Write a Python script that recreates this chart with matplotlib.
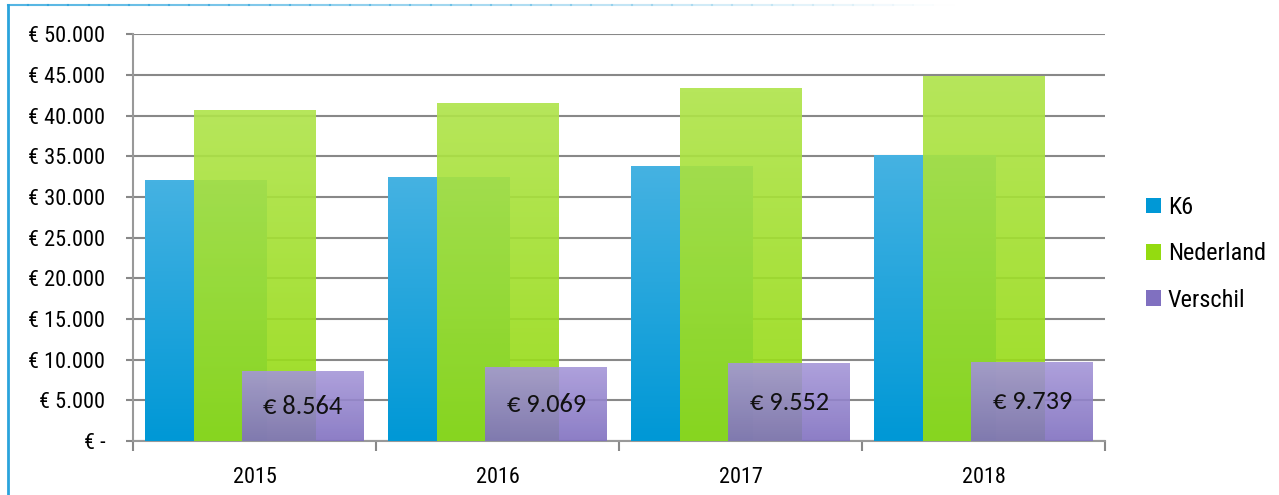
import matplotlib

matplotlib.use("Agg")
import matplotlib.pyplot as plt
import numpy as np
from matplotlib.colors import LinearSegmentedColormap
from matplotlib.lines import Line2D
from matplotlib.patches import Rectangle

years = ["2015", "2016", "2017", "2018"]
nederland = [40660, 41520, 43370, 44880]
verschil = [8564, 9069, 9552, 9739]
k6 = [n - v for n, v in zip(nederland, verschil)]
series_names = ["K6", "Nederland", "Verschil"]
yticks = [0, 5000, 10000, 15000, 20000, 25000, 30000, 35000, 40000, 45000, 50000]

# (top colour, bottom colour, alpha) per series
STYLES = [
    ("#45b2e2", "#0098d6", 1.0),
    ("#b0e44c", "#94db10", 0.92),
    ("#a596d8", "#8070c0", 0.9),
]
TICK_FONT = ["Roboto Condensed", "DejaVu Sans"]
LABEL_FONT = ["Carlito", "DejaVu Sans"]


def grad_cmap(top, bottom):
    return LinearSegmentedColormap.from_list("g", [bottom, top])


def grad_bar(ax, x, h, w, top, bottom, alpha, z):
    rect = Rectangle((x - w / 2, 0), w, h, facecolor="none", edgecolor="none", zorder=z)
    ax.add_patch(rect)
    img = ax.imshow(np.linspace(0, 1, 64).reshape(-1, 1), cmap=grad_cmap(top, bottom),
                    origin="lower", extent=(x - w / 2, x + w / 2, 0, h), aspect="auto",
                    alpha=alpha, zorder=z, interpolation="bilinear")
    img.set_clip_path(rect)


fig = plt.figure(figsize=(12.79, 4.95), dpi=100)
ax = fig.add_axes([0.104, 0.109, 0.760, 0.822])

xs = np.arange(len(years))
offsets = [-0.2, 0.0, 0.2]
width = 0.5
for i, vals in enumerate([k6, nederland, verschil]):
    top, bottom, alpha = STYLES[i]
    for x, v in zip(xs, vals):
        grad_bar(ax, x + offsets[i], v, width, top, bottom, alpha, 3 + i)

for x, v in zip(xs, verschil):
    ax.text(x + offsets[2], v / 2, f"€ {v:,}".replace(",", "."), ha="center", va="center",
            fontsize=19, family=LABEL_FONT, color="#111111", zorder=10)

ax.set_xlim(-0.5, len(years) - 0.5)
ax.set_ylim(0, 50000)
ax.set_yticks(yticks)
ax.set_yticklabels(["€ -" if t == 0 else f"€ {t:,}".replace(",", ".") for t in yticks],
                   family=TICK_FONT, fontsize=16, color="#000000")
ax.set_xticks(xs)
ax.set_xticklabels(years, family=TICK_FONT, fontsize=16, color="#000000")
ax.set_xticks(np.arange(-0.5, len(years)), minor=True)
ax.tick_params(axis="x", which="major", length=0, pad=19)
ax.tick_params(axis="x", which="minor", length=7, width=1.5, color="#888888")
ax.tick_params(axis="y", length=5, width=1.5, color="#888888", pad=15)
ax.yaxis.grid(True, color="#888888", lw=1.5, zorder=1)
ax.set_axisbelow(True)
for s in ["top", "right"]:
    ax.spines[s].set_visible(False)
for s in ["left", "bottom"]:
    ax.spines[s].set_color("#999999")
    ax.spines[s].set_linewidth(1.5)

handles = [Rectangle((0, 0), 1, 1, facecolor=c[1], edgecolor="none") for c in STYLES]
leg = fig.legend(handles, series_names, loc="center left", bbox_to_anchor=(0.896, 0.487),
                 frameon=False, prop={"family": TICK_FONT, "size": 17.5},
                 borderpad=0, borderaxespad=0,
                 handlelength=0.6, handleheight=0.6, handletextpad=0.3, labelspacing=0.95)
for t in leg.get_texts():
    t.set_color("#000000")

# outer frame: left edge and top edge fading to the right
fig.add_artist(Line2D([0.0063, 0.0063], [0.0, 0.99], color="#2aa3dc", lw=2,
                      transform=fig.transFigure))
n = 60
xf = np.linspace(0.0063, 0.95, n + 1)
for k in range(n):
    a = max(0.0, 1 - k / n * 1.3) * 0.8
    fig.add_artist(Line2D([xf[k], xf[k + 1]], [0.99, 0.99], color="#2aa3dc",
                          lw=1.5, alpha=a, transform=fig.transFigure))

fig.savefig("out.png", dpi=100)
